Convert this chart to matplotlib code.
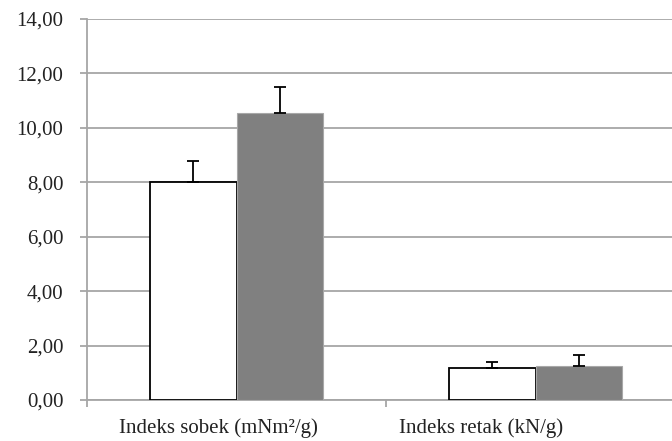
import matplotlib
matplotlib.use("Agg")
import matplotlib.pyplot as plt
import numpy as np
from matplotlib.ticker import FuncFormatter, FixedLocator

categories = ["Indeks sobek (mNm²/g)", "Indeks retak (kN/g)"]
series_a = [8.00, 1.16]
series_a_err = [0.80, 0.25]
series_b = [10.55, 1.25]
series_b_err = [0.95, 0.39]

plt.rcParams['font.family'] = ['Liberation Serif', 'DejaVu Serif']

fig = plt.figure(figsize=(6.72, 4.41), dpi=100)
# axes extends past the right edge (reference is cropped)
ax = fig.add_axes([87/672, 41/441, 598/672, 381/441])

x = np.arange(len(categories))
w = 0.288
grid_c = "#a6a6a6"

ax.bar(x - w/2, series_a, w, color="white", edgecolor="black", linewidth=1.3, zorder=3)
ax.bar(x + w/2, series_b, w, color="#808080", edgecolor="#a8a8a8", linewidth=0.8, zorder=3)
ax.errorbar(x - w/2, series_a, yerr=[np.zeros(len(x)), series_a_err], fmt="none",
            ecolor="black", elinewidth=1.3, capsize=4.5, capthick=1.3, zorder=4)
ax.errorbar(x + w/2, series_b, yerr=[np.zeros(len(x)), series_b_err], fmt="none",
            ecolor="black", elinewidth=1.3, capsize=4.5, capthick=1.3, zorder=4)

ax.set_xlim(-0.5, 1.5)
ax.set_ylim(0, 14)
ax.set_yticks(np.arange(0, 14.01, 2))
ax.yaxis.set_major_formatter(FuncFormatter(lambda v, p: f"{v:.2f}".replace(".", ",")))
ax.grid(axis="y", color=grid_c, linewidth=1.3, zorder=0)
ax.set_axisbelow(True)

for s in ["top", "right"]:
    ax.spines[s].set_visible(False)
for s in ["left", "bottom"]:
    ax.spines[s].set_color(grid_c)
    ax.spines[s].set_linewidth(1.3)

# major x ticks at category boundaries, labels via minor ticks
ax.xaxis.set_major_locator(FixedLocator([-0.5, 0.5, 1.5]))
ax.set_xticklabels([])
label_shift = [-0.062, -0.182]
ax.xaxis.set_minor_locator(FixedLocator(list(x + np.array(label_shift))))
ax.set_xticklabels(categories, minor=True)
ax.tick_params(axis="x", which="major", direction="out", length=5, width=1.3, color=grid_c)
ax.tick_params(axis="x", which="minor", length=0, pad=13, labelsize=15, labelcolor="#222222")
ax.tick_params(axis="y", direction="out", length=5, width=1.3, color=grid_c, pad=12,
               labelsize=15, labelcolor="#222222")

fig.savefig("out.png", dpi=100)
